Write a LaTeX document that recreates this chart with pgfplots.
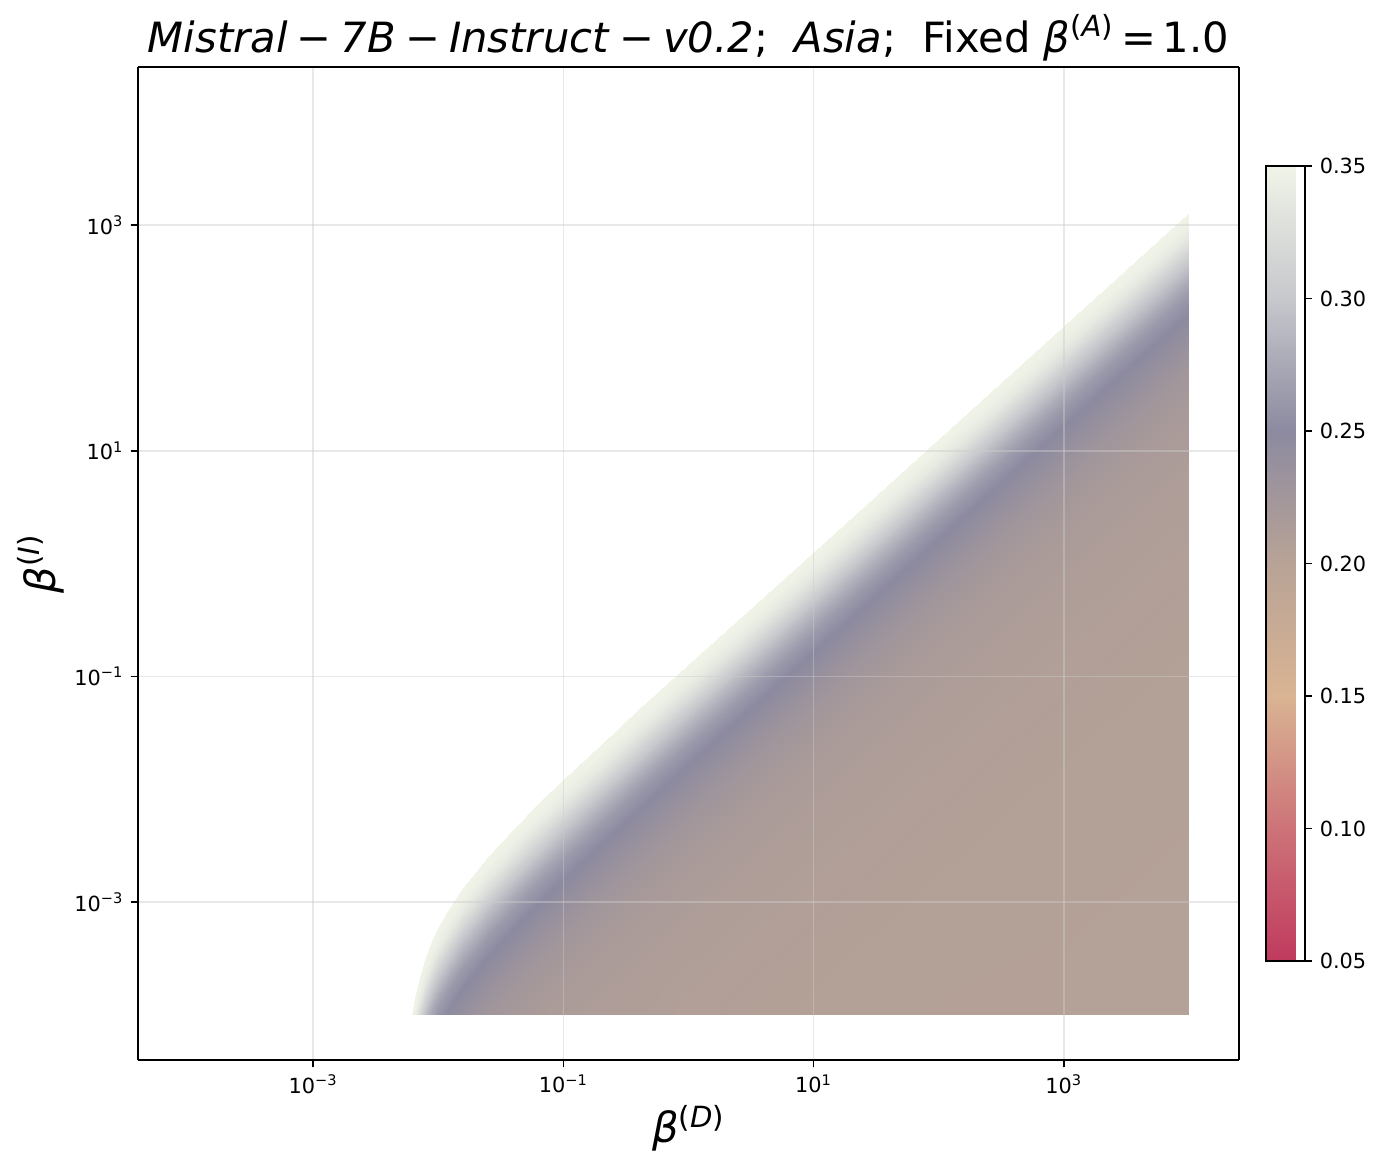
\documentclass[border=0pt]{standalone}
\usepackage{fontspec}
\setmainfont{DejaVu Sans}
\usepackage{pgfplots}
\pgfplotsset{compat=1.18}

% colours (0.05 ... 0.35)
\pgfplotsset{
  colormap={betamap}{
    rgb255(0cm)=(192,58,94);
    rgb255(1cm)=(205,115,120);
    rgb255(2cm)=(217,180,147);
    rgb255(3cm)=(184,163,150);
    rgb255(4cm)=(140,138,160);
    rgb255(5cm)=(198,200,204);
    rgb255(6cm)=(240,244,232)
  }
}
\newcommand{\mm}{\hspace{0.22em}−\hspace{0.22em}}

\begin{document}
\begin{tikzpicture}
\useasboundingbox (-66.24pt,-54.24pt) rectangle (596.64pt,508.8pt);
\begin{axis}[
  view={0}{90},
  scale only axis,
  width=528.5pt, height=476.6pt,
  xmin=-4.4, xmax=4.4, ymin=-4.4, ymax=4.4,
  xtick={-3,-1,1,3}, ytick={-3,-1,1,3}, ztick=\empty,
  xticklabels={10\textsuperscript{−3},10\textsuperscript{−1},10\textsuperscript{1},10\textsuperscript{3}},
  yticklabels={10\textsuperscript{−3},10\textsuperscript{−1},10\textsuperscript{1},10\textsuperscript{3}},
  tick pos=left,
  tick label style={font=\fontsize{10}{12}\selectfont},
  tick align=outside, major tick length=3.5pt,
  tick style={black, line width=0.8pt},
  axis line style={line width=0.8pt},
  grid=major,
  grid style={line width=0.8pt, color=white!80!black, opacity=0.45},
  axis on top,
  colormap name=betamap,
  point meta min=0.05, point meta max=0.35,
  colorbar,
  colorbar style={
    scale only axis,
    width=18.7pt, height=381.6pt,
    at={(parent axis.east)}, anchor=west, xshift=4.5pt,
    ytick={0.05,0.1,0.15,0.2,0.25,0.3,0.35},
    /pgf/number format/assume math mode=true,
    yticklabel style={/pgf/number format/fixed, /pgf/number format/fixed zerofill,
      /pgf/number format/precision=2, font=\fontsize{10}{12}\selectfont},
    tick align=outside, major tick length=3.5pt,
    tick style={black, line width=0.8pt},
    ytick pos=right,
    axis line style={line width=0.8pt},
  },
  title={\textit{Mistral}\mm\textit{7B}\mm\textit{Instruct}\mm\textit{v0.2};\ \ \textit{Asia};\ \ Fixed \textit{β}\textsuperscript{(\textit{A})}\,=\,1.0},
  title style={font=\fontsize{20}{24}\selectfont, at={(0.5,1)}, anchor=base, yshift=1pt},
  xlabel={\textit{β}\textsuperscript{(\textit{D})}},
  ylabel={\textit{β}\textsuperscript{(\textit{I})}},
  xlabel style={font=\fontsize{20}{24}\selectfont, at={(0.5,0)}, anchor=base, yshift=-39.8pt},
  ylabel style={font=\fontsize{20}{24}\selectfont, at={(0,0.5)}, anchor=base, yshift=39.8pt},
]
% columns: log10 beta(D); points: (log10 beta(D), log10 beta(I), value)
\addplot3[surf, shader=interp, point meta=z] coordinates {
(-2.21,-4,0.350) (-2.21,-4,0.350) (-2.21,-4,0.350) (-2.21,-4,0.350) (-2.21,-4,0.350) (-2.21,-4,0.350) (-2.21,-4,0.350) (-2.21,-4,0.350) (-2.21,-4,0.350) (-2.21,-4,0.350) (-2.21,-4,0.350) (-2.21,-4,0.350) (-2.21,-4,0.350) (-2.21,-4,0.350) (-2.21,-4,0.350) (-2.21,-4,0.350) (-2.21,-4,0.350) (-2.21,-4,0.350)

(-2.18,-3.807,0.350) (-2.18,-3.907,0.346) (-2.18,-4,0.338) (-2.18,-4,0.338) (-2.18,-4,0.338) (-2.18,-4,0.338) (-2.18,-4,0.338) (-2.18,-4,0.338) (-2.18,-4,0.338) (-2.18,-4,0.338) (-2.18,-4,0.338) (-2.18,-4,0.338) (-2.18,-4,0.338) (-2.18,-4,0.338) (-2.18,-4,0.338) (-2.18,-4,0.338) (-2.18,-4,0.338) (-2.18,-4,0.338)

(-2.15,-3.666,0.350) (-2.15,-3.766,0.346) (-2.15,-3.866,0.337) (-2.15,-3.966,0.322) (-2.15,-4,0.316) (-2.15,-4,0.316) (-2.15,-4,0.316) (-2.15,-4,0.316) (-2.15,-4,0.316) (-2.15,-4,0.316) (-2.15,-4,0.316) (-2.15,-4,0.316) (-2.15,-4,0.316) (-2.15,-4,0.316) (-2.15,-4,0.316) (-2.15,-4,0.316) (-2.15,-4,0.316) (-2.15,-4,0.316)

(-2.10,-3.487,0.350) (-2.10,-3.587,0.346) (-2.10,-3.687,0.337) (-2.10,-3.787,0.322) (-2.10,-3.887,0.305) (-2.10,-3.987,0.290) (-2.10,-4,0.288) (-2.10,-4,0.288) (-2.10,-4,0.288) (-2.10,-4,0.288) (-2.10,-4,0.288) (-2.10,-4,0.288) (-2.10,-4,0.288) (-2.10,-4,0.288) (-2.10,-4,0.288) (-2.10,-4,0.288) (-2.10,-4,0.288) (-2.10,-4,0.288)

(-2.05,-3.348,0.350) (-2.05,-3.448,0.346) (-2.05,-3.548,0.337) (-2.05,-3.648,0.322) (-2.05,-3.748,0.305) (-2.05,-3.848,0.290) (-2.05,-3.948,0.276) (-2.05,-4,0.270) (-2.05,-4,0.270) (-2.05,-4,0.270) (-2.05,-4,0.270) (-2.05,-4,0.270) (-2.05,-4,0.270) (-2.05,-4,0.270) (-2.05,-4,0.270) (-2.05,-4,0.270) (-2.05,-4,0.270) (-2.05,-4,0.270)

(-2.00,-3.231,0.350) (-2.00,-3.331,0.346) (-2.00,-3.431,0.337) (-2.00,-3.531,0.322) (-2.00,-3.631,0.305) (-2.00,-3.731,0.290) (-2.00,-3.831,0.276) (-2.00,-3.931,0.264) (-2.00,-4,0.259) (-2.00,-4,0.259) (-2.00,-4,0.259) (-2.00,-4,0.259) (-2.00,-4,0.259) (-2.00,-4,0.259) (-2.00,-4,0.259) (-2.00,-4,0.259) (-2.00,-4,0.259) (-2.00,-4,0.259)

(-1.90,-3.038,0.350) (-1.90,-3.138,0.346) (-1.90,-3.238,0.337) (-1.90,-3.338,0.322) (-1.90,-3.438,0.305) (-1.90,-3.538,0.290) (-1.90,-3.638,0.276) (-1.90,-3.738,0.264) (-1.90,-3.918,0.250) (-1.90,-4,0.246) (-1.90,-4,0.246) (-1.90,-4,0.246) (-1.90,-4,0.246) (-1.90,-4,0.246) (-1.90,-4,0.246) (-1.90,-4,0.246) (-1.90,-4,0.246) (-1.90,-4,0.246)

(-1.80,-2.876,0.350) (-1.80,-2.976,0.346) (-1.80,-3.076,0.337) (-1.80,-3.176,0.322) (-1.80,-3.276,0.305) (-1.80,-3.376,0.290) (-1.80,-3.476,0.276) (-1.80,-3.576,0.264) (-1.80,-3.756,0.250) (-1.80,-3.876,0.244) (-1.80,-4,0.238) (-1.80,-4,0.238) (-1.80,-4,0.238) (-1.80,-4,0.238) (-1.80,-4,0.238) (-1.80,-4,0.238) (-1.80,-4,0.238) (-1.80,-4,0.238)

(-1.70,-2.733,0.350) (-1.70,-2.833,0.346) (-1.70,-2.933,0.337) (-1.70,-3.033,0.322) (-1.70,-3.133,0.305) (-1.70,-3.233,0.290) (-1.70,-3.333,0.276) (-1.70,-3.433,0.264) (-1.70,-3.613,0.250) (-1.70,-3.733,0.244) (-1.70,-3.933,0.234) (-1.70,-4,0.231) (-1.70,-4,0.231) (-1.70,-4,0.231) (-1.70,-4,0.231) (-1.70,-4,0.231) (-1.70,-4,0.231) (-1.70,-4,0.231)

(-1.60,-2.601,0.350) (-1.60,-2.701,0.346) (-1.60,-2.801,0.337) (-1.60,-2.901,0.322) (-1.60,-3.001,0.305) (-1.60,-3.101,0.290) (-1.60,-3.201,0.276) (-1.60,-3.301,0.264) (-1.60,-3.481,0.250) (-1.60,-3.601,0.244) (-1.60,-3.801,0.234) (-1.60,-4,0.226) (-1.60,-4,0.226) (-1.60,-4,0.226) (-1.60,-4,0.226) (-1.60,-4,0.226) (-1.60,-4,0.226) (-1.60,-4,0.226)

(-1.50,-2.477,0.350) (-1.50,-2.577,0.346) (-1.50,-2.677,0.337) (-1.50,-2.777,0.322) (-1.50,-2.877,0.305) (-1.50,-2.977,0.290) (-1.50,-3.077,0.276) (-1.50,-3.177,0.264) (-1.50,-3.357,0.250) (-1.50,-3.477,0.244) (-1.50,-3.677,0.234) (-1.50,-3.877,0.226) (-1.50,-4,0.223) (-1.50,-4,0.223) (-1.50,-4,0.223) (-1.50,-4,0.223) (-1.50,-4,0.223) (-1.50,-4,0.223)

(-1.40,-2.359,0.350) (-1.40,-2.459,0.346) (-1.40,-2.559,0.337) (-1.40,-2.659,0.322) (-1.40,-2.759,0.305) (-1.40,-2.859,0.290) (-1.40,-2.959,0.276) (-1.40,-3.059,0.264) (-1.40,-3.239,0.250) (-1.40,-3.359,0.244) (-1.40,-3.559,0.234) (-1.40,-3.759,0.226) (-1.40,-4,0.220) (-1.40,-4,0.220) (-1.40,-4,0.220) (-1.40,-4,0.220) (-1.40,-4,0.220) (-1.40,-4,0.220)

(-1.20,-2.135,0.350) (-1.20,-2.235,0.346) (-1.20,-2.335,0.337) (-1.20,-2.435,0.322) (-1.20,-2.535,0.305) (-1.20,-2.635,0.290) (-1.20,-2.735,0.276) (-1.20,-2.835,0.264) (-1.20,-3.015,0.250) (-1.20,-3.135,0.244) (-1.20,-3.335,0.234) (-1.20,-3.535,0.226) (-1.20,-3.835,0.218) (-1.20,-4,0.216) (-1.20,-4,0.216) (-1.20,-4,0.216) (-1.20,-4,0.216) (-1.20,-4,0.216)

(-1.00,-1.920,0.350) (-1.00,-2.020,0.346) (-1.00,-2.120,0.337) (-1.00,-2.220,0.322) (-1.00,-2.320,0.305) (-1.00,-2.420,0.290) (-1.00,-2.520,0.276) (-1.00,-2.620,0.264) (-1.00,-2.800,0.250) (-1.00,-2.920,0.244) (-1.00,-3.120,0.234) (-1.00,-3.320,0.226) (-1.00,-3.620,0.218) (-1.00,-4,0.213) (-1.00,-4,0.213) (-1.00,-4,0.213) (-1.00,-4,0.213) (-1.00,-4,0.213)

(-0.70,-1.608,0.350) (-0.70,-1.708,0.346) (-0.70,-1.808,0.337) (-0.70,-1.908,0.322) (-0.70,-2.008,0.305) (-0.70,-2.108,0.290) (-0.70,-2.208,0.276) (-0.70,-2.308,0.264) (-0.70,-2.488,0.250) (-0.70,-2.608,0.244) (-0.70,-2.808,0.234) (-0.70,-3.008,0.226) (-0.70,-3.308,0.218) (-0.70,-3.808,0.212) (-0.70,-4,0.211) (-0.70,-4,0.211) (-0.70,-4,0.211) (-0.70,-4,0.211)

(-0.40,-1.302,0.350) (-0.40,-1.402,0.346) (-0.40,-1.502,0.337) (-0.40,-1.602,0.322) (-0.40,-1.702,0.305) (-0.40,-1.802,0.290) (-0.40,-1.902,0.276) (-0.40,-2.002,0.264) (-0.40,-2.182,0.250) (-0.40,-2.302,0.244) (-0.40,-2.502,0.234) (-0.40,-2.702,0.226) (-0.40,-3.002,0.218) (-0.40,-3.502,0.212) (-0.40,-4,0.210) (-0.40,-4,0.210) (-0.40,-4,0.210) (-0.40,-4,0.210)

(0.00,-0.899,0.350) (0.00,-0.999,0.346) (0.00,-1.099,0.337) (0.00,-1.199,0.322) (0.00,-1.299,0.305) (0.00,-1.399,0.290) (0.00,-1.499,0.276) (0.00,-1.599,0.264) (0.00,-1.779,0.250) (0.00,-1.899,0.244) (0.00,-2.099,0.234) (0.00,-2.299,0.226) (0.00,-2.599,0.218) (0.00,-3.099,0.212) (0.00,-3.899,0.208) (0.00,-4,0.208) (0.00,-4,0.208) (0.00,-4,0.208)

(1.00,0.104,0.350) (1.00,0.004,0.346) (1.00,-0.096,0.337) (1.00,-0.196,0.322) (1.00,-0.296,0.305) (1.00,-0.396,0.290) (1.00,-0.496,0.276) (1.00,-0.596,0.264) (1.00,-0.776,0.250) (1.00,-0.896,0.244) (1.00,-1.096,0.234) (1.00,-1.296,0.226) (1.00,-1.596,0.218) (1.00,-2.096,0.212) (1.00,-2.896,0.208) (1.00,-3.896,0.206) (1.00,-4,0.206) (1.00,-4,0.206)

(2.00,1.104,0.350) (2.00,1.004,0.346) (2.00,0.904,0.337) (2.00,0.804,0.322) (2.00,0.704,0.305) (2.00,0.604,0.290) (2.00,0.504,0.276) (2.00,0.404,0.264) (2.00,0.224,0.250) (2.00,0.104,0.244) (2.00,-0.096,0.234) (2.00,-0.296,0.226) (2.00,-0.596,0.218) (2.00,-1.096,0.212) (2.00,-1.896,0.208) (2.00,-2.896,0.206) (2.00,-4,0.205) (2.00,-4,0.205)

(3.00,2.104,0.350) (3.00,2.004,0.346) (3.00,1.904,0.337) (3.00,1.804,0.322) (3.00,1.704,0.305) (3.00,1.604,0.290) (3.00,1.504,0.276) (3.00,1.404,0.264) (3.00,1.224,0.250) (3.00,1.104,0.244) (3.00,0.904,0.234) (3.00,0.704,0.226) (3.00,0.404,0.218) (3.00,-0.096,0.212) (3.00,-0.896,0.208) (3.00,-1.896,0.206) (3.00,-3.396,0.205) (3.00,-4,0.205)

(4.00,3.104,0.350) (4.00,3.004,0.346) (4.00,2.904,0.337) (4.00,2.804,0.322) (4.00,2.704,0.305) (4.00,2.604,0.290) (4.00,2.504,0.276) (4.00,2.404,0.264) (4.00,2.224,0.250) (4.00,2.104,0.244) (4.00,1.904,0.234) (4.00,1.704,0.226) (4.00,1.404,0.218) (4.00,0.904,0.212) (4.00,0.104,0.208) (4.00,-0.896,0.206) (4.00,-2.396,0.205) (4.00,-4,0.204)
};
\end{axis}
\end{tikzpicture}
\end{document}
